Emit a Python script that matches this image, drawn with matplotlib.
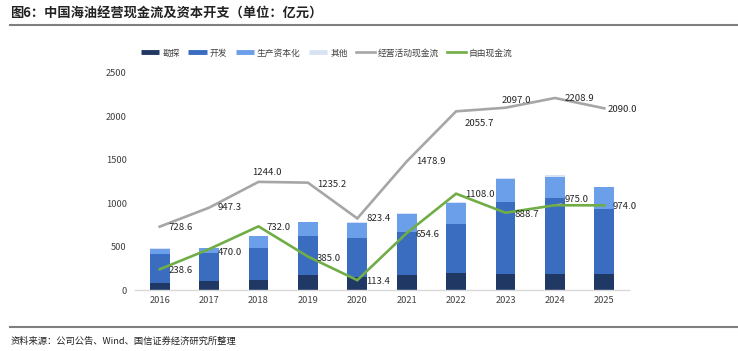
import matplotlib
matplotlib.use("Agg")
import matplotlib.pyplot as plt
from matplotlib.lines import Line2D
import numpy as np

plt.rcParams['font.family'] = ['Noto Sans CJK SC', 'DejaVu Sans']

years = ['2016', '2017', '2018', '2019', '2020', '2021', '2022', '2023', '2024', '2025']
exploration = [84, 107, 119, 176, 146, 173, 199, 188, 184, 184]
development = [334, 315, 368, 441, 456, 498, 560, 828, 874, 748]
production = [57, 57, 130, 161, 165, 199, 246, 261, 238, 257]
other = [8, 8, 8, 8, 12, 12, 11, 11, 23, 0]
op_cf = [728.6, 947.3, 1244.0, 1235.2, 823.4, 1478.9, 2055.7, 2097.0, 2208.9, 2090.0]
free_cf = [238.6, 470.0, 732.0, 385.0, 113.4, 654.6, 1108.0, 888.7, 975.0, 974.0]

c_exp = '#1F3864'
c_dev = '#3A6CC0'
c_prod = '#6C9FEA'
c_oth = '#D9E2F3'
c_op = '#A6A6A6'
c_fcf = '#70AD47'

W, H = 738, 351
fig = plt.figure(figsize=(W / 100, H / 100), dpi=100)
ax = fig.add_axes([135 / W, (H - 290) / H, (629 - 135) / W, (290 - 72.7) / H])

x = np.arange(len(years))
bw = 0.4
b0 = np.zeros(len(years))
for vals, col in [(exploration, c_exp), (development, c_dev), (production, c_prod), (other, c_oth)]:
    ax.bar(x, vals, bw, bottom=b0, color=col, zorder=2)
    b0 = b0 + np.array(vals)

ax.plot(x, op_cf, color=c_op, lw=1.9, zorder=3, solid_joinstyle='miter')
ax.plot(x, free_cf, color=c_fcf, lw=1.9, zorder=4, solid_joinstyle='miter')

ax.set_xlim(-0.5, len(years) - 0.5)
ax.set_ylim(0, 2500)
ax.set_yticks([0, 500, 1000, 1500, 2000, 2500])
ax.set_xticks(x)
ax.set_xticklabels(years)
for s in ['top', 'right', 'left']:
    ax.spines[s].set_visible(False)
ax.spines['bottom'].set_color('#D9D9D9')
ax.spines['bottom'].set_linewidth(1.0)
ax.tick_params(axis='both', length=0, labelsize=6.7, colors='#404040')
ax.tick_params(axis='x', pad=4)
ax.tick_params(axis='y', pad=6)

px = 0.72  # points per pixel
# (dx, dy, ha) in pixels
op_off = [(9, -1, 'left'), (9, 0, 'left'), (8, 9, 'center'), (9, -1.5, 'left'), (9, -0.5, 'left'),
          (9, 0, 'left'), (8, -12, 'left'), (11, 7, 'center'), (10, 0, 'left'), (3.5, -0.7, 'left')]
fcf_off = [(9, -1, 'left'), (9, -3.5, 'left'), (8, -1.3, 'left'), (9, -1.5, 'left'), (9, -1.6, 'left'),
           (9, -1, 'left'), (9, -0.6, 'left'), (9, -1.3, 'left'), (9.5, 6, 'left'), (8, -0.7, 'left')]

for i, v in enumerate(op_cf):
    dx, dy, ha = op_off[i]
    ax.annotate(f'{v:.1f}', (x[i], v), xytext=(dx * px, dy * px), textcoords='offset points',
                ha=ha, va='center', fontsize=6.9, color='#262626', zorder=6)
for i, v in enumerate(free_cf):
    dx, dy, ha = fcf_off[i]
    kw = {}
    if i == 8:
        kw['arrowprops'] = dict(arrowstyle='-', color='#A6A6A6', lw=0.6, shrinkA=0, shrinkB=2)
    ax.annotate(f'{v:.1f}', (x[i], v), xytext=(dx * px, dy * px), textcoords='offset points',
                ha=ha, va='center', fontsize=6.9, color='#262626', zorder=6, **kw)

handles = [Line2D([], [], color=c_exp, lw=3.5, solid_capstyle='butt'),
           Line2D([], [], color=c_dev, lw=3.5, solid_capstyle='butt'),
           Line2D([], [], color=c_prod, lw=3.5, solid_capstyle='butt'),
           Line2D([], [], color=c_oth, lw=3.5, solid_capstyle='butt'),
           Line2D([], [], color=c_op, lw=1.9),
           Line2D([], [], color=c_fcf, lw=1.9)]
labels = ['勘探', '开发', '生产资本化', '其他', '经营活动现金流', '自由现金流']
fig.legend(handles, labels, loc='center left', bbox_to_anchor=(141 / W, 1 - 53 / H), ncol=6,
           frameon=False, fontsize=6.3, handlelength=2.1, handletextpad=0.35,
           columnspacing=0.95, labelcolor='#404040', borderaxespad=0, borderpad=0)

fig.text(10 / W, 1 - 14 / H, '图6：中国海油经营现金流及资本开支（单位：亿元）', fontsize=9.5,
         fontweight='bold', color='#222222', ha='left', va='center')
fig.add_artist(Line2D([10 / W, 1.0], [1 - 25 / H, 1 - 25 / H], color='#808080', lw=1.5,
                      transform=fig.transFigure))
fig.add_artist(Line2D([10 / W, 1.0], [1 - 327 / H, 1 - 327 / H], color='#808080', lw=1.5,
                      transform=fig.transFigure))
fig.text(11 / W, 1 - 341 / H, '资料来源：公司公告、Wind、国信证券经济研究所整理', fontsize=6.7,
         color='#222222', ha='left', va='center')

fig.savefig('out.png', dpi=100)
